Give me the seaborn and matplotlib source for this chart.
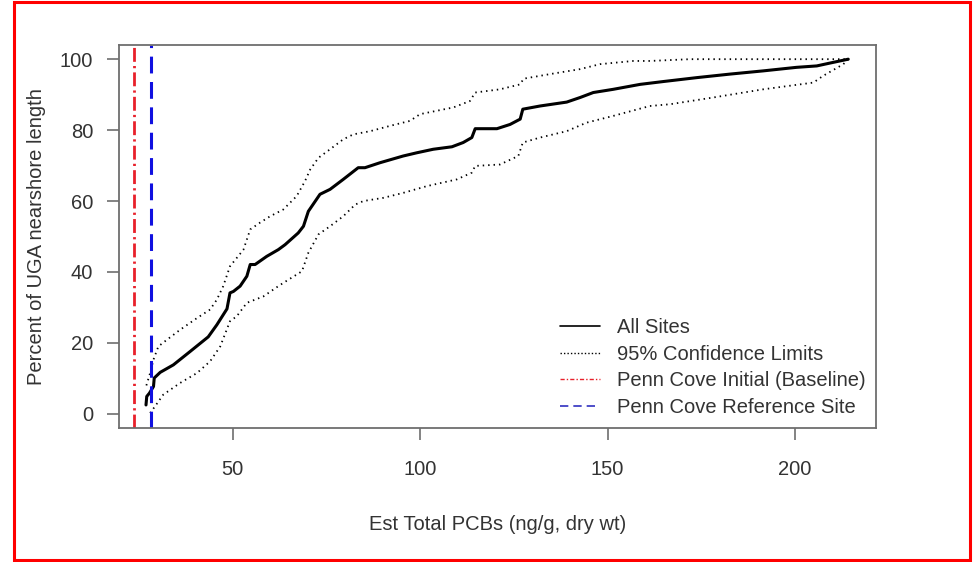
import matplotlib
matplotlib.use("Agg")
import matplotlib.pyplot as plt
import seaborn as sns
import pandas as pd
from matplotlib.patches import Rectangle
from matplotlib.lines import Line2D

# Cumulative distribution of estimated total PCBs across nearshore sites
all_x = [26.9, 27.1, 27.8, 28.9, 29.1, 30.7, 34.2, 38.7, 43.5, 45.8, 48.5, 49.3,
         50.2, 52.0, 53.8, 54.7, 56.0, 59.1, 62.2, 64.0, 67.5, 68.9, 70.2, 73.3,
         76.0, 79.5, 83.5, 85.3, 89.3, 95.5, 99.1, 103.5, 108.5, 111.5, 113.8,
         114.7, 120.5, 124.0, 126.7, 127.4, 132.0, 139.1, 142.7, 146.2, 151.5,
         158.7, 164.9, 173.8, 182.7, 191.5, 200.4, 205.8, 209.3, 214.2]
all_y = [2.5, 4.9, 5.8, 7.7, 10.1, 11.7, 13.8, 17.6, 21.7, 25.1, 29.6, 34.1,
         34.5, 36.0, 38.8, 42.1, 42.1, 44.4, 46.3, 47.7, 51.0, 52.9, 57.1, 61.9,
         63.3, 66.1, 69.4, 69.4, 70.8, 72.7, 73.6, 74.6, 75.3, 76.5, 77.9,
         80.4, 80.4, 81.6, 83.1, 85.9, 86.8, 87.9, 89.2, 90.6, 91.5,
         92.9, 93.7, 94.8, 95.8, 96.7, 97.7, 98.1, 98.9, 100.0]

upper_x = [27.0, 28.0, 28.9, 30.2, 32.5, 36.0, 40.5, 44.0, 45.8, 47.5, 49.3, 52.9,
           54.7, 57.3, 60.0, 63.5, 67.1, 69.3, 70.7, 72.9, 76.0, 79.5, 82.2,
           86.7, 92.0, 97.3, 100.0, 108.9, 113.3, 114.7, 121.3, 126.7, 127.6,
           134.7, 142.7, 148.0, 156.9, 161.3, 172.0, 214.2]
upper_y = [8.0, 11.5, 15.3, 19.0, 20.9, 23.7, 27.0, 29.4, 32.2, 36.0, 41.6, 46.3,
           52.0, 53.9, 55.7, 57.6, 61.4, 65.6, 68.9, 72.2, 74.6, 77.4, 78.8,
           79.7, 81.2, 82.6, 84.5, 86.4, 88.2, 90.6, 91.5, 92.9, 94.5,
           95.8, 97.2, 98.6, 99.5, 99.5, 100.0, 100.0]

lower_x = [28.0, 29.3, 31.5, 36.0, 40.5, 44.0, 46.7, 49.3, 51.1, 53.8, 58.2,
           62.2, 63.5, 68.5, 70.2, 72.9, 76.0, 79.5, 82.7, 84.9, 90.2, 95.5,
           101.8, 109.8, 113.8, 114.7, 121.3, 126.2, 127.4, 132.0, 139.1,
           144.4, 151.5, 161.3, 166.7, 178.2, 191.5, 204.9, 207.5, 212.9, 214.2]
lower_y = [0.2, 2.1, 5.4, 8.7, 11.5, 14.8, 19.0, 26.1, 27.5, 31.3, 33.1,
           36.0, 36.9, 40.2, 45.4, 50.6, 52.9, 55.7, 59.0, 60.0, 60.9, 62.3,
           64.2, 66.1, 68.0, 69.9, 70.3, 72.7, 76.5, 77.9, 79.7,
           82.1, 84.0, 86.8, 87.3, 89.2, 91.5, 93.4, 95.3, 98.6, 100.0]

baseline_pcb = 23.6
reference_pcb = 28.2

legend_labels = ["All Sites", "95% Confidence Limits",
                 "Penn Cove Initial (Baseline)", "Penn Cove Reference Site"]
x_ticks = [50, 100, 150, 200]
y_ticks = [0, 20, 40, 60, 80, 100]

sns.set_style("white")
plt.rcParams["font.family"] = ["Liberation Sans", "DejaVu Sans"]
FS = 14.5
TXT = "#333333"
FRAME = "#6e6e6e"

fig = plt.figure(figsize=(9.74, 5.62), dpi=100)
ax = fig.add_axes([119 / 974, 1 - 428 / 562, (876 - 119) / 974, (428 - 45) / 562])

df_all = pd.DataFrame({"x": all_x, "y": all_y})
df_up = pd.DataFrame({"x": upper_x, "y": upper_y})
df_lo = pd.DataFrame({"x": lower_x, "y": lower_y})

dot_style = (0, (0.8, 2.2))
sns.lineplot(data=df_up, x="x", y="y", ax=ax, sort=False, estimator=None,
             color="black", lw=1.3, linestyle=dot_style)
sns.lineplot(data=df_lo, x="x", y="y", ax=ax, sort=False, estimator=None,
             color="black", lw=1.3, linestyle=dot_style)
sns.lineplot(data=df_all, x="x", y="y", ax=ax, sort=False, estimator=None,
             color="black", lw=2.2)

red_style = (0, (5.0, 1.5, 0.8, 1.5))
blue_style = (0, (5.5, 2.8))
ax.axvline(baseline_pcb, color="#e8202a", lw=2.0, linestyle=red_style)
ax.axvline(reference_pcb, color="#1010e0", lw=2.2, linestyle=blue_style)

ax.set_xlim(19.7, 221.6)
ax.set_ylim(-4, 104)
ax.set_xticks(x_ticks)
ax.set_yticks(y_ticks)
ax.set_xticklabels([str(v) for v in x_ticks], fontsize=FS, color=TXT)
ax.set_yticklabels([str(v) for v in y_ticks], fontsize=FS, color=TXT)
ax.tick_params(axis="both", direction="out", length=8.6, width=1.2, color=FRAME,
               bottom=True, left=True)
ax.tick_params(axis="x", pad=14.5)
ax.tick_params(axis="y", pad=10)
for s in ax.spines.values():
    s.set_visible(True)
    s.set_color(FRAME)
    s.set_linewidth(1.3)

ax.set_xlabel("Est Total PCBs (ng/g, dry wt)", fontsize=FS, color=TXT, labelpad=26)
ax.set_ylabel("Percent of UGA nearshore length", fontsize=FS, color=TXT, labelpad=10)

handles = [
    Line2D([], [], color="black", lw=1.2),
    Line2D([], [], color="black", lw=1.0, linestyle=(0, (1, 1.5))),
    Line2D([], [], color="#e8202a", lw=1.0, linestyle=(0, (3, 1.5, 1, 1.5))),
    Line2D([], [], color="#3030c0", lw=1.2, linestyle=(0, (5, 3))),
]
leg = fig.legend(handles, legend_labels, loc="upper left",
                 bbox_to_anchor=(560 / 974, 1 - 318 / 562),
                 bbox_transform=fig.transFigure, frameon=False,
                 fontsize=FS, handlelength=2.0, handletextpad=0.85,
                 labelspacing=0.38, borderpad=0, borderaxespad=0)
for t in leg.get_texts():
    t.set_color(TXT)

# red outline around the whole figure
fig.patches.append(Rectangle((14 / 974, 1 - 560 / 562), (970 - 14) / 974, (560 - 2) / 562,
                             transform=fig.transFigure, fill=False,
                             edgecolor="#ff0000", lw=2.2, zorder=10))

fig.savefig("out.png", dpi=100)
